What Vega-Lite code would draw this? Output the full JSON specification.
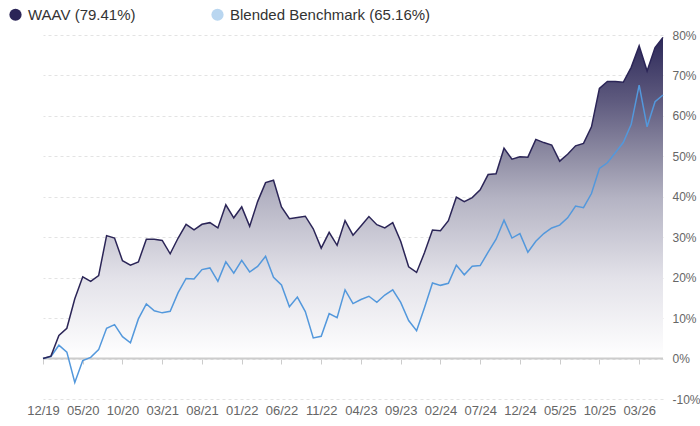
{
  "$schema": "https://vega.github.io/schema/vega-lite/v6.json",
  "width": 620,
  "height": 364,
  "autosize": {"type": "none"},
  "padding": {"left": 43, "top": 35, "right": 37, "bottom": 27},
  "background": "white",
  "config": {
    "view": {"stroke": null},
    "font": "Liberation Sans",
    "axis": {"labelFont": "Liberation Sans"},
    "legend": {"labelFont": "Liberation Sans"}
  },
  "data": {
    "values": [
      {"m": "12/19", "waav": 0, "bench": 0},
      {"m": "01/20", "waav": 0.6, "bench": 0.5},
      {"m": "02/20", "waav": 5.7, "bench": 3.3},
      {"m": "03/20", "waav": 7.5, "bench": 1.6},
      {"m": "04/20", "waav": 14.8, "bench": -5.9},
      {"m": "05/20", "waav": 20.2, "bench": -0.5},
      {"m": "06/20", "waav": 19.1, "bench": 0.3},
      {"m": "07/20", "waav": 20.5, "bench": 2.2},
      {"m": "08/20", "waav": 30.4, "bench": 7.5},
      {"m": "09/20", "waav": 29.8, "bench": 8.4},
      {"m": "10/20", "waav": 24.2, "bench": 5.4},
      {"m": "11/20", "waav": 23.1, "bench": 3.9},
      {"m": "12/20", "waav": 23.9, "bench": 9.8},
      {"m": "01/21", "waav": 29.5, "bench": 13.5},
      {"m": "02/21", "waav": 29.5, "bench": 11.8},
      {"m": "03/21", "waav": 29.2, "bench": 11.3},
      {"m": "04/21", "waav": 25.9, "bench": 11.7},
      {"m": "05/21", "waav": 29.8, "bench": 16.3},
      {"m": "06/21", "waav": 33.2, "bench": 19.8},
      {"m": "07/21", "waav": 31.8, "bench": 19.7},
      {"m": "08/21", "waav": 33.2, "bench": 22.0},
      {"m": "09/21", "waav": 33.6, "bench": 22.4},
      {"m": "10/21", "waav": 32.3, "bench": 19.1},
      {"m": "11/21", "waav": 38.0, "bench": 23.9},
      {"m": "12/21", "waav": 34.8, "bench": 21.1},
      {"m": "01/22", "waav": 37.5, "bench": 24.3},
      {"m": "02/22", "waav": 32.7, "bench": 21.4},
      {"m": "03/22", "waav": 38.8, "bench": 22.8},
      {"m": "04/22", "waav": 43.5, "bench": 25.3},
      {"m": "05/22", "waav": 44.1, "bench": 20.1},
      {"m": "06/22", "waav": 37.5, "bench": 18.2},
      {"m": "07/22", "waav": 34.6, "bench": 12.8},
      {"m": "08/22", "waav": 34.9, "bench": 15.2},
      {"m": "09/22", "waav": 35.2, "bench": 11.6},
      {"m": "10/22", "waav": 32.1, "bench": 5.1},
      {"m": "11/22", "waav": 27.3, "bench": 5.5},
      {"m": "12/22", "waav": 31.2, "bench": 11.1},
      {"m": "01/23", "waav": 28.0, "bench": 10.1},
      {"m": "02/23", "waav": 34.1, "bench": 17.0},
      {"m": "03/23", "waav": 30.5, "bench": 13.6},
      {"m": "04/23", "waav": 32.8, "bench": 14.6},
      {"m": "05/23", "waav": 35.1, "bench": 15.4},
      {"m": "06/23", "waav": 33.1, "bench": 13.9},
      {"m": "07/23", "waav": 32.3, "bench": 15.7},
      {"m": "08/23", "waav": 33.6, "bench": 17.0},
      {"m": "09/23", "waav": 29.0, "bench": 13.9},
      {"m": "10/23", "waav": 22.7, "bench": 9.4},
      {"m": "11/23", "waav": 21.3, "bench": 6.9},
      {"m": "12/23", "waav": 26.2, "bench": 12.6},
      {"m": "01/24", "waav": 31.8, "bench": 18.7},
      {"m": "02/24", "waav": 31.6, "bench": 18.1},
      {"m": "03/24", "waav": 34.1, "bench": 18.6},
      {"m": "04/24", "waav": 39.9, "bench": 23.1},
      {"m": "05/24", "waav": 38.8, "bench": 20.7},
      {"m": "06/24", "waav": 39.8, "bench": 22.8},
      {"m": "07/24", "waav": 41.7, "bench": 23.0},
      {"m": "08/24", "waav": 45.5, "bench": 26.3},
      {"m": "09/24", "waav": 45.7, "bench": 29.5},
      {"m": "10/24", "waav": 52.0, "bench": 34.2},
      {"m": "11/24", "waav": 49.3, "bench": 29.8},
      {"m": "12/24", "waav": 49.9, "bench": 30.9},
      {"m": "01/25", "waav": 49.8, "bench": 26.3},
      {"m": "02/25", "waav": 54.2, "bench": 29.0},
      {"m": "03/25", "waav": 53.4, "bench": 30.9},
      {"m": "04/25", "waav": 52.8, "bench": 32.3},
      {"m": "05/25", "waav": 48.8, "bench": 33.0},
      {"m": "06/25", "waav": 50.5, "bench": 34.8},
      {"m": "07/25", "waav": 52.6, "bench": 37.7},
      {"m": "08/25", "waav": 53.2, "bench": 37.3},
      {"m": "09/25", "waav": 57.3, "bench": 40.8},
      {"m": "10/25", "waav": 66.8, "bench": 47.0},
      {"m": "11/25", "waav": 68.5, "bench": 48.4},
      {"m": "12/25", "waav": 68.5, "bench": 50.9},
      {"m": "01/26", "waav": 68.3, "bench": 53.4},
      {"m": "02/26", "waav": 72.0, "bench": 57.9},
      {"m": "03/26", "waav": 77.3, "bench": 67.6},
      {"m": "04/26", "waav": 71.1, "bench": 57.3},
      {"m": "05/26", "waav": 76.9, "bench": 63.5},
      {"m": "06/26", "waav": 79.41, "bench": 65.16}
    ]
  },
  "layer": [
    {
      "mark": {
        "type": "area",
        "color": {
          "gradient": "linear",
          "x1": 0, "y1": 0, "x2": 0, "y2": 1,
          "stops": [
            {"offset": 0, "color": "#2c2858"},
            {"offset": 0.2, "color": "#5f5b7f"},
            {"offset": 0.37, "color": "#8f8da4"},
            {"offset": 0.5, "color": "#b4b3c3"},
            {"offset": 0.75, "color": "#e3e2e9"},
            {"offset": 1, "color": "#ffffff"}
          ]
        }
      },
      "encoding": {
        "x": {
          "field": "m", "type": "ordinal", "sort": null,
          "scale": {"type": "point", "padding": 0},
          "axis": {
            "orient": "bottom", "title": null, "domain": false, "ticks": false, "grid": false,
            "labelAngle": 0, "labelFontSize": 13, "labelColor": "#666666", "labelPadding": 5,
            "values": ["12/19","05/20","10/20","03/21","08/21","01/22","06/22","11/22","04/23","09/23","02/24","07/24","12/24","05/25","10/25","03/26"]
          }
        },
        "y": {
          "field": "waav", "type": "quantitative",
          "scale": {"domain": [-10, 80], "nice": false, "zero": false},
          "axis": {
            "orient": "right", "title": null, "domain": false, "ticks": false,
            "values": [-10, 0, 10, 20, 30, 40, 50, 60, 70, 80],
            "labelExpr": "datum.value + '%'",
            "labelFontSize": 12, "labelColor": "#666666", "labelPadding": 9,
            "grid": true, "gridColor": "#e3e3e3", "gridDash": [3, 3], "gridWidth": 1
          }
        },
        "y2": {"datum": 0},
        "order": {"value": null}
      }
    },
    {
      "mark": {"type": "line", "color": "#cccccc", "strokeWidth": 2},
      "encoding": {
        "x": {
          "field": "m", "type": "ordinal", "sort": null,
          "scale": {"type": "point", "padding": 0},
          "axis": {
            "orient": "bottom", "offset": -40, "title": null, "domain": false, "ticks": true,
            "tickSize": 5, "tickColor": "#cccccc", "tickWidth": 1, "labels": false, "grid": false,
            "values": ["12/19","05/20","10/20","03/21","08/21","01/22","06/22","11/22","04/23","09/23","02/24","07/24","12/24","05/25","10/25","03/26"]
          }
        },
        "y": {
          "datum": 0, "type": "quantitative",
          "axis": {
            "orient": "right", "title": null, "domain": false, "ticks": false,
            "values": [-10, 0, 10, 20, 30, 40, 50, 60, 70, 80],
            "labelExpr": "datum.value + '%'",
            "labelFontSize": 12, "labelColor": "#666666", "labelPadding": 9,
            "grid": true, "gridColor": "#e3e3e3", "gridDash": [3, 3], "gridWidth": 1
          }
        },
        "order": {"value": null}
      }
    },
    {
      "transform": [{"fold": ["bench", "waav"], "as": ["series", "value"]}],
      "mark": {"type": "line", "strokeWidth": 1.5},
      "encoding": {
        "x": {
          "field": "m", "type": "ordinal", "sort": null,
          "scale": {"type": "point", "padding": 0},
          "axis": null
        },
        "y": {
          "field": "value", "type": "quantitative",
          "axis": {
            "orient": "right", "title": null, "domain": false, "ticks": false,
            "values": [-10, 0, 10, 20, 30, 40, 50, 60, 70, 80],
            "labelExpr": "datum.value + '%'",
            "labelFontSize": 12, "labelColor": "#666666", "labelPadding": 9,
            "grid": true, "gridColor": "#e3e3e3", "gridDash": [3, 3], "gridWidth": 1
          }
        },
        "color": {
          "field": "series", "type": "nominal",
          "scale": {"domain": ["waav", "bench"], "range": ["#2b2557", "#5398dc"]},
          "legend": {
            "orient": "none", "legendX": -35, "legendY": -28,
            "direction": "horizontal", "title": null,
            "symbolType": "circle", "symbolSize": 150, "symbolStrokeWidth": 0,
            "labelFontSize": 15, "labelColor": "#333333", "labelOffset": 5, "labelLimit": 400,
            "columnPadding": 74, "padding": 0,
            "labelExpr": "datum.value == 'waav' ? 'WAAV (79.41%)' : 'Blended Benchmark (65.16%)'",
            "encode": {
              "symbols": {
                "update": {
                  "fill": {"signal": "datum.value == 'waav' ? '#2b2557' : '#b9d6f0'"},
                  "stroke": {"value": "transparent"},
                  "opacity": {"value": 1}
                }
              }
            }
          }
        },
        "order": {"value": null}
      }
    }
  ],
  "resolve": {"axis": {"x": "independent"}}
}
